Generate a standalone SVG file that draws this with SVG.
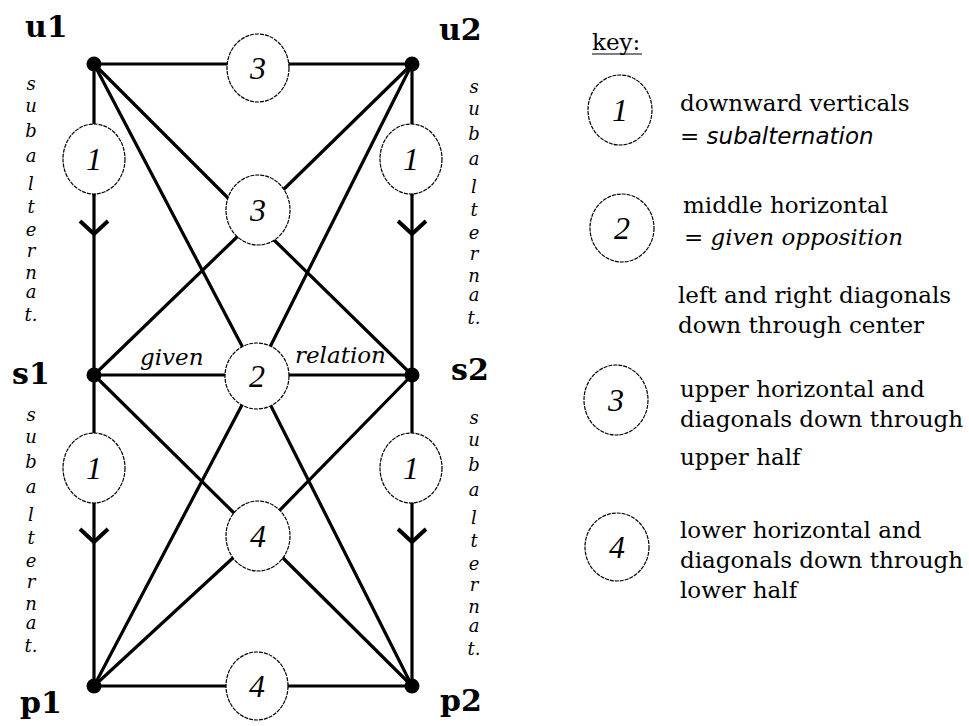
<svg xmlns="http://www.w3.org/2000/svg" width="969" height="726" viewBox="0 0 969 726">
<style>
.ln{stroke:#000;stroke-width:3.2;fill:none;stroke-linecap:round}
.el{fill:#fff;stroke:#000;stroke-width:1.2;stroke-dasharray:4 1}
.dot{fill:#000}
.lbl{font-family:"DejaVu Serif",serif;font-weight:bold;font-size:30px;fill:#000}
.dig{font-family:"Liberation Serif",serif;font-style:italic;font-size:32px;text-anchor:middle;fill:#000}
.vt{font-family:"DejaVu Serif",serif;font-style:italic;font-size:18px;text-anchor:middle;fill:#000}
.it{font-family:"DejaVu Serif",serif;font-style:italic;font-size:23px;fill:#000}
.kt{font-family:"DejaVu Serif",serif;font-size:23px;fill:#000}
.ks{font-family:"DejaVu Sans",sans-serif;font-style:italic;font-size:23px}
</style>
<defs>
<marker id="vee" markerUnits="userSpaceOnUse" markerWidth="40" markerHeight="40" viewBox="-20 -20 40 40" refX="0" refY="0" orient="auto" overflow="visible">
<path d="M -13 -14 L 0 0 L -13 14" fill="none" stroke="#000" stroke-width="4"/>
</marker>
</defs>
<rect width="969" height="726" fill="#fff"/>
<g id="connectors">
<line class="ln" x1="94" y1="64" x2="412" y2="64"/>
<line class="ln" x1="94" y1="375" x2="412" y2="375"/>
<line class="ln" x1="94" y1="686" x2="412" y2="686"/>
<polyline class="ln" points="94,64 94,195"/>
<polyline class="ln" points="94,195 94,234 94,375" marker-mid="url(#vee)"/>
<polyline class="ln" points="94,375 94,503"/>
<polyline class="ln" points="94,503 94,542 94,686" marker-mid="url(#vee)"/>
<polyline class="ln" points="412,64 412,195"/>
<polyline class="ln" points="412,195 412,234 412,375" marker-mid="url(#vee)"/>
<polyline class="ln" points="412,375 412,503"/>
<polyline class="ln" points="412,503 412,542 412,686" marker-mid="url(#vee)"/>
<line class="ln" x1="94" y1="64" x2="230" y2="200"/>
<line class="ln" x1="412" y1="64" x2="281" y2="192"/>
<line class="ln" x1="94" y1="375" x2="238" y2="236"/>
<line class="ln" x1="412" y1="375" x2="272" y2="238"/>
<line class="ln" x1="94" y1="64" x2="242" y2="346"/>
<line class="ln" x1="412" y1="64" x2="270" y2="347"/>
<line class="ln" x1="94" y1="686" x2="242" y2="405"/>
<line class="ln" x1="412" y1="686" x2="270" y2="404"/>
<line class="ln" x1="94" y1="375" x2="235" y2="514"/>
<line class="ln" x1="412" y1="375" x2="278" y2="512"/>
<line class="ln" x1="94" y1="686" x2="235" y2="556"/>
<line class="ln" x1="412" y1="686" x2="280" y2="555"/>
</g>
<g id="u1"><circle class="dot" cx="94" cy="64" r="7.5"/><text class="lbl" x="25" y="37">u1</text></g>
<g id="u2"><circle class="dot" cx="412" cy="64" r="7.5"/><text class="lbl" x="439" y="40">u2</text></g>
<g id="s1"><circle class="dot" cx="94" cy="375" r="7.5"/><text class="lbl" x="12" y="384">s1</text></g>
<g id="s2"><circle class="dot" cx="412" cy="375" r="7.5"/><text class="lbl" x="451" y="380">s2</text></g>
<g id="p1"><circle class="dot" cx="94" cy="686" r="7.5"/><text class="lbl" x="20" y="713">p1</text></g>
<g id="p2"><circle class="dot" cx="412" cy="686" r="7.5"/><text class="lbl" x="440" y="711">p2</text></g>
<g id="r-top"><ellipse class="el" cx="258" cy="68" rx="31" ry="34"/><text class="dig" x="258" y="79">3</text></g>
<g id="r-u3"><ellipse class="el" cx="258" cy="210" rx="32" ry="35"/><text class="dig" x="258" y="221">3</text></g>
<g id="r-mid"><ellipse class="el" cx="257" cy="376" rx="32" ry="33"/><text class="dig" x="257" y="387">2</text></g>
<g id="r-l4"><ellipse class="el" cx="258" cy="536" rx="32" ry="35"/><text class="dig" x="258" y="547">4</text></g>
<g id="r-bot"><ellipse class="el" cx="257" cy="686" rx="31" ry="34"/><text class="dig" x="257" y="697">4</text></g>
<g id="r-lu"><ellipse class="el" cx="94" cy="159" rx="31" ry="35"/><text class="dig" x="94" y="170">1</text></g>
<g id="r-ll"><ellipse class="el" cx="94" cy="468" rx="31" ry="35"/><text class="dig" x="94" y="479">1</text></g>
<g id="r-ru"><ellipse class="el" cx="411" cy="159" rx="31" ry="35"/><text class="dig" x="411" y="170">1</text></g>
<g id="r-rl"><ellipse class="el" cx="411" cy="468" rx="31" ry="35"/><text class="dig" x="411" y="479">1</text></g>
<g id="edge-labels">
<text class="it" x="140" y="365">given</text>
<text class="it" x="295" y="363">relation</text>
</g>
<g id="vtext-lu" class="vt">
<text x="31" y="90">s</text><text x="31" y="112">u</text><text x="31" y="137">b</text><text x="31" y="162">a</text><text x="31" y="190">l</text><text x="31" y="213">t</text><text x="31" y="236">e</text><text x="31" y="257">r</text><text x="31" y="279">n</text><text x="31" y="298">a</text><text x="31" y="321">t.</text>
</g>
<g id="vtext-ll" class="vt">
<text x="31" y="421">s</text><text x="31" y="443">u</text><text x="31" y="468">b</text><text x="31" y="493">a</text><text x="31" y="521">l</text><text x="31" y="544">t</text><text x="31" y="567">e</text><text x="31" y="588">r</text><text x="31" y="610">n</text><text x="31" y="629">a</text><text x="31" y="652">t.</text>
</g>
<g id="vtext-ru" class="vt">
<text x="474" y="93">s</text><text x="474" y="115">u</text><text x="474" y="140">b</text><text x="474" y="165">a</text><text x="474" y="193">l</text><text x="474" y="216">t</text><text x="474" y="239">e</text><text x="474" y="260">r</text><text x="474" y="282">n</text><text x="474" y="301">a</text><text x="474" y="324">t.</text>
</g>
<g id="vtext-rl" class="vt">
<text x="474" y="424">s</text><text x="474" y="446">u</text><text x="474" y="471">b</text><text x="474" y="496">a</text><text x="474" y="524">l</text><text x="474" y="547">t</text><text x="474" y="570">e</text><text x="474" y="591">r</text><text x="474" y="613">n</text><text x="474" y="632">a</text><text x="474" y="655">t.</text>
</g>
<g id="key">
<text class="kt" x="592" y="50">key:</text>
<line x1="592" y1="54" x2="642" y2="54" stroke="#000" stroke-width="1.2"/>
<g id="key1"><ellipse class="el" cx="620" cy="110" rx="32" ry="35"/><text class="dig" x="620" y="121">1</text></g>
<text class="kt" x="680" y="111">downward verticals</text>
<text class="kt" x="680" y="144">= <tspan class="ks">subalternation</tspan></text>
<g id="key2"><ellipse class="el" cx="622" cy="228" rx="32" ry="34"/><text class="dig" x="622" y="239">2</text></g>
<text class="kt" x="683" y="213">middle horizontal</text>
<text class="kt" x="684" y="245">= <tspan class="it">given opposition</tspan></text>
<text class="kt" x="678" y="303">left and right diagonals</text>
<text class="kt" x="678" y="333">down through center</text>
<g id="key3"><ellipse class="el" cx="616" cy="400" rx="32" ry="35"/><text class="dig" x="616" y="411">3</text></g>
<text class="kt" x="680" y="397">upper horizontal and</text>
<text class="kt" x="680" y="427">diagonals down through</text>
<text class="kt" x="680" y="465">upper half</text>
<g id="key4"><ellipse class="el" cx="617" cy="547" rx="32" ry="34"/><text class="dig" x="617" y="558">4</text></g>
<text class="kt" x="680" y="538">lower horizontal and</text>
<text class="kt" x="680" y="568">diagonals down through</text>
<text class="kt" x="680" y="598">lower half</text>
</g>
</svg>
